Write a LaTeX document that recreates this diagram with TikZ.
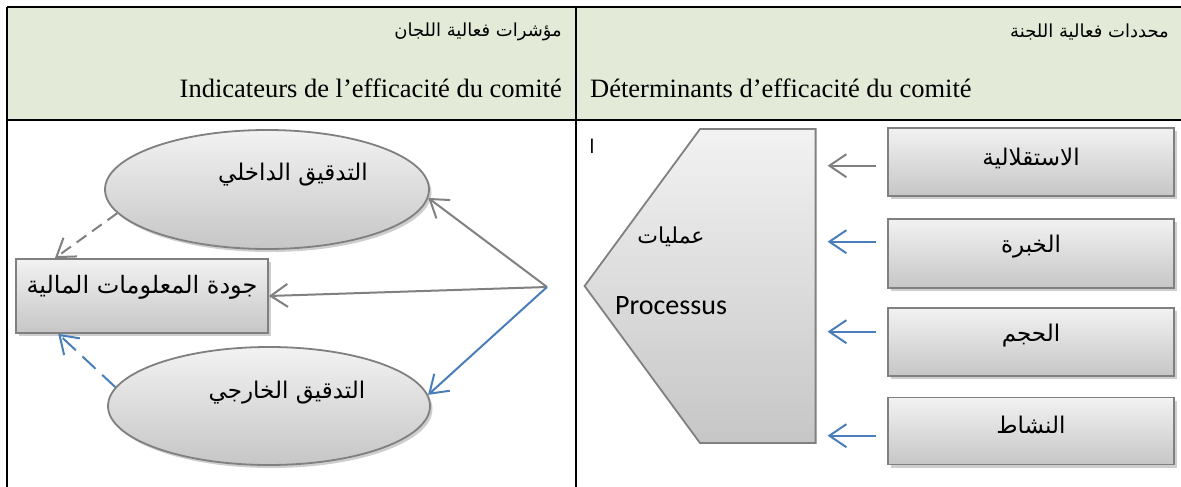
\documentclass[tikz,border=0pt]{standalone}
\usepackage{fontspec}
\setmainfont{Liberation Serif}
\newfontfamily\arabicfont[Script=Arabic]{DejaVu Sans}
\newfontfamily\calib{Carlito}
\TeXXeTstate=1
\usetikzlibrary{arrows.meta,shadows,calc,shapes.geometric}
\definecolor{hdr}{RGB}{227,235,216}
\definecolor{lgray}{RGB}{128,128,128}
\definecolor{lblue}{RGB}{74,126,187}
\definecolor{shtop}{RGB}{242,242,242}
\definecolor{shbot}{RGB}{198,198,198}
\begin{document}
\begin{tikzpicture}[x=1pt,y=-1pt,
  shapefill/.style={draw=lgray, line width=1.8pt, top color=shtop, bottom color=shbot},
  shapebox/.style={shapefill, drop shadow={shadow xshift=2.5pt, shadow yshift=-3pt, opacity=0.35, fill=black!55}},
  sbox/.style={shapebox, rectangle, inner sep=0pt, minimum width=286pt},
  sell/.style={shapebox, ellipse, inner sep=0pt},
  artxt/.style={inner sep=0pt, font=\arabicfont\fontsize{23}{27}\selectfont},
  hartxt/.style={inner sep=0pt, font=\arabicfont\fontsize{18}{21}\selectfont},
  frtxt/.style={inner sep=0pt, font=\fontsize{26.5}{30}\selectfont},
  tip/.style={-{Straight Barb[length=17pt,width=23pt,line width=2pt]}, line width=2pt},
  garr/.style={tip, draw=lgray},
  barr/.style={tip, draw=lblue},
]
\useasboundingbox (0,0) rectangle (1181,487);
% header
\fill[hdr] (7,7) rectangle (1181,120);
\draw[line width=1.6pt] (7,7) -- (1181,7);
\draw[line width=2.4pt] (7,120) -- (1181,120);
\draw[line width=1.6pt] (7,7) -- (7,487);
\draw[line width=1.6pt] (576,7) -- (576,487);
\node[hartxt, anchor=east] (h1a) at (562,32) {\beginR مؤشرات فعالية اللجان\endR};
\node[frtxt, anchor=base east] (h1f) at (562,97) {Indicateurs de l’efficacité du comité};
\node[hartxt, anchor=east] (h2a) at (1169,32) {\beginR محددات فعالية اللجنة\endR};
\node[frtxt, anchor=base west] (h2f) at (590,97) {Déterminants d’efficacité du comité};
\node[inner sep=0pt, font=\arabicfont\fontsize{19}{22}\selectfont] (alef) at (592,146) {ا};

% pentagon (Processus)
\coordinate (p1) at (700,129);
\coordinate (p2) at (815.6,129);
\coordinate (p3) at (815.6,443);
\coordinate (p4) at (700,443);
\coordinate (p5) at (584.6,286);
\fill[black!55, opacity=0.35, xshift=2.5pt, yshift=-3pt] (p1) -- (p2) -- (p3) -- (p4) -- (p5) -- cycle;
\path[shapefill] (p1) -- (p2) -- (p3) -- (p4) -- (p5) -- cycle;
\node[artxt, font=\arabicfont\fontsize{22}{26}\selectfont] (proc1) at (671,237) {\beginR عمليات\endR};
\node[inner sep=0pt, font=\calib\fontsize{28}{32}\selectfont] (proc2) at (671,306) {Processus};

% right boxes
\node[sbox, minimum height=68pt] (b1) at (1031,162) {};
\node[sbox, minimum height=69pt] (b2) at (1031,253.5) {};
\node[sbox, minimum height=68pt] (b3) at (1031,342) {};
\node[sbox, minimum height=67pt] (b4) at (1031,431) {};
\node[artxt] (t1) at ([yshift=4pt]b1.center) {\beginR الاستقلالية\endR};
\node[artxt] (t2) at ([yshift=7pt]b2.center) {\beginR الخبرة\endR};
\node[artxt] (t3) at ([yshift=6pt]b3.center) {\beginR الحجم\endR};
\node[artxt] (t4) at ([yshift=6pt]b4.center) {\beginR النشاط\endR};

\coordinate (pr) at (815.6,286);
\draw[garr, shorten <=11pt, shorten >=12pt] ([yshift=-3.7pt]b1.west) -- ([yshift=-3.7pt]b1.west -| pr);
\draw[barr, shorten <=11pt, shorten >=12pt] ([yshift=11.8pt]b2.west) -- ([yshift=11.8pt]b2.west -| pr);
\draw[barr, shorten <=11pt, shorten >=12pt] ([yshift=10.3pt]b3.west) -- ([yshift=10.3pt]b3.west -| pr);
\draw[barr, shorten <=11pt, shorten >=12pt] ([yshift=-4.7pt]b4.west) -- ([yshift=-4.7pt]b4.west -| pr);

% left side
\node[sell, minimum width=324pt, minimum height=119pt] (e1) at (267,189.5) {};
\node[sell, minimum width=322pt, minimum height=118pt] (e2) at (269,406) {};
\node[shapebox, rectangle, inner sep=0pt, minimum width=252pt, minimum height=74pt] (q) at (142,296) {};
\node[artxt] (te1) at ([xshift=26pt,yshift=15pt]e1.center) {\beginR التدقيق الداخلي\endR};
\node[artxt] (te2) at ([xshift=18pt,yshift=13pt]e2.center) {\beginR التدقيق الخارجي\endR};
\node[artxt, font=\arabicfont\fontsize{24}{28}\selectfont] (tq) at ([yshift=9pt]q.center) {\beginR جودة المعلومات المالية\endR};

\coordinate (hub) at (547,287);
\draw[garr] (hub) -- (e1.-3);
\draw[garr] (hub) -- (q.east);
\draw[barr] (hub) -- (e2.4);
\draw[garr, dash pattern=on 12pt off 7pt] (e1.189) -- ($(q.north west)!0.157!(q.north east)$);
\draw[barr, dash pattern=on 18pt off 9pt] (e2.173) -- ($(q.south west)!0.17!(q.south east)$);
\end{tikzpicture}
\end{document}
